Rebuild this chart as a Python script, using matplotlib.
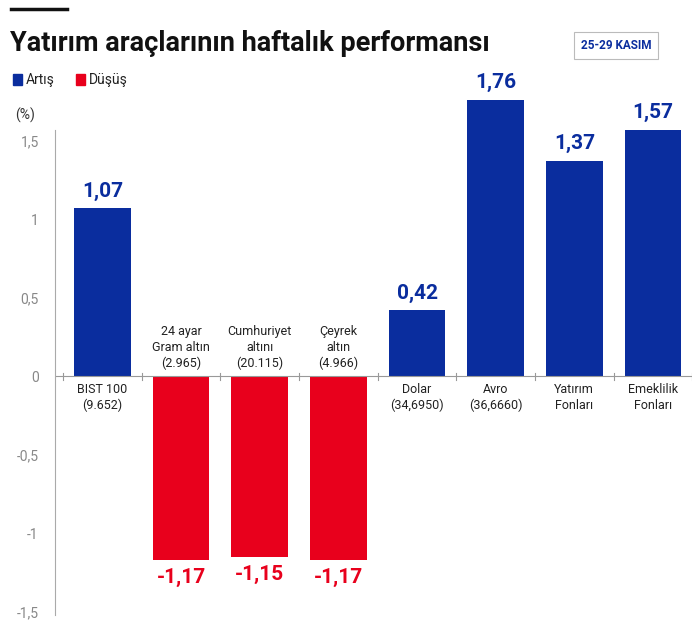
import matplotlib.pyplot as plt

plt.rcParams['font.family'] = ['Roboto', 'DejaVu Sans']

names = ['BIST 100\n(9.652)', '24 ayar\nGram altın\n(2.965)', 'Cumhuriyet\naltını\n(20.115)',
         'Çeyrek\naltın\n(4.966)', 'Dolar\n(34,6950)', 'Avro\n(36,6660)', 'Yatırım\nFonları', 'Emeklilik\nFonları']
values = [1.07, -1.17, -1.15, -1.17, 0.42, 1.76, 1.37, 1.57]
labels = ['1,07', '-1,17', '-1,15', '-1,17', '0,42', '1,76', '1,37', '1,57']
yticks = [1.5, 1, 0.5, 0, -0.5, -1, -1.5]
ytick_labels = ['1,5', '1', '0,5', '0', '-0,5', '-1', '-1,5']

blue = '#0a2d9e'
red = '#e8001c'

fig = plt.figure(figsize=(7, 6.27), dpi=100)
ax = fig.add_axes([0.079, 0.019, 0.91, 0.869])
ax.patch.set_alpha(0)
x = range(len(values))
cols = [blue if v > 0 else red for v in values]
ax.bar(x, values, width=0.72, color=cols)
ax.set_xlim(-0.6, 7.5)
ax.set_ylim(-1.52, 1.95)
ax.spines['left'].set_bounds(-1.52, 1.57)
ax.axhline(0, color='#999999', lw=0.8)
for i in range(len(values) + 1):
    ax.plot([i - 0.5, i - 0.5], [-0.02, 0.02], color='#999999', lw=0.8)
for i, v in enumerate(values):
    off = 0.05 if v > 0 else -0.05
    ax.text(i, v + off, labels[i], ha='center', va='bottom' if v > 0 else 'top',
            color=cols[i], fontsize=15, fontweight='bold')
    ax.text(i, -0.04 if v > 0 else 0.04, names[i], ha='center', va='top' if v > 0 else 'bottom',
            fontsize=9, color='#222222', linespacing=1.3)
ax.set_yticks(yticks)
ax.set_yticklabels(ytick_labels, color='#888888', fontsize=10)
ax.tick_params(axis='y', length=0, pad=12)
ax.set_xticks([])
for s in ['top', 'right', 'bottom']:
    ax.spines[s].set_visible(False)
ax.spines['left'].set_color('#aaaaaa')
fig.text(0.022, 0.81, '(%)', fontsize=10, color='#333333')

fig.add_artist(plt.Line2D([0.015, 0.095], [0.985, 0.985], color='#111111', lw=2.5))
fig.text(0.015, 0.93, 'Yatırım araçlarının haftalık performansı', fontsize=19.5, fontweight='bold', color='#111111', va='center')
fig.text(0.88, 0.928, '25-29 KASIM', fontsize=8.5, color=blue, ha='center', va='center', fontweight='bold',
         bbox=dict(boxstyle='square,pad=0.6', fc='white', ec='#bbbbbb', lw=0.8))
fig.patches.append(plt.Rectangle((0.018, 0.864), 0.014, 0.018, color=blue, transform=fig.transFigure))
fig.text(0.037, 0.873, 'Artış', fontsize=10, va='center', color='#222222')
fig.patches.append(plt.Rectangle((0.108, 0.864), 0.014, 0.018, color=red, transform=fig.transFigure))
fig.text(0.127, 0.873, 'Düşüş', fontsize=10, va='center', color='#222222')

fig.savefig('out.png')
